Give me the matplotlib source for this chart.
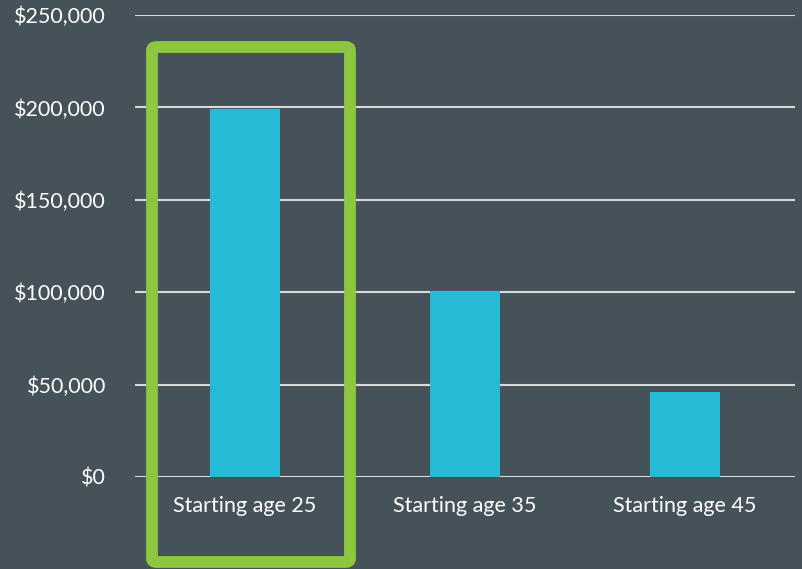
import matplotlib.pyplot as plt
from matplotlib.patches import FancyBboxPatch
from matplotlib.ticker import FuncFormatter

categories = ["Starting age 25", "Starting age 35", "Starting age 45"]
values = [199000, 100500, 46000]
y_ticks = [0, 50000, 100000, 150000, 200000, 250000]

bg = "#465259"
bar_color = "#25BBD7"
green = "#8DC63F"

plt.rcParams['font.family'] = ['Lato', 'DejaVu Sans']

fig = plt.figure(figsize=(8.02, 5.69), dpi=100, facecolor=bg)
ax = fig.add_axes([0.1683, 0.1617, 0.8230, 0.8119])
ax.set_facecolor(bg)

x = range(len(categories))
ax.bar(x, values, width=0.314, color=bar_color, zorder=3)

ax.set_xlim(-0.5, len(categories) - 0.5)
ax.set_ylim(0, 250000)
ax.set_yticks(y_ticks)
ax.yaxis.set_major_formatter(FuncFormatter(lambda v, p: f"${v:,.0f}"))
ax.set_xticks(list(x))
ax.set_xticklabels(categories)
ax.grid(axis='y', color='#D9D9D9', linewidth=1.5, zorder=1)
ax.set_axisbelow(True)
for s in ax.spines.values():
    s.set_visible(False)
ax.tick_params(axis='both', length=0, colors='white', labelsize=15.5)
ax.tick_params(axis='y', pad=21)
ax.tick_params(axis='x', pad=14)

# green highlight box around the first bar
box = FancyBboxPatch((152 / 802, 1 - 562 / 569), 198 / 802, 515 / 569,
                     boxstyle="round,pad=0,rounding_size=0.006",
                     transform=fig.transFigure, fill=False,
                     edgecolor=green, linewidth=8.5, zorder=5, clip_on=False)
fig.patches.append(box)

fig.savefig("out.png", dpi=100, facecolor=bg)
